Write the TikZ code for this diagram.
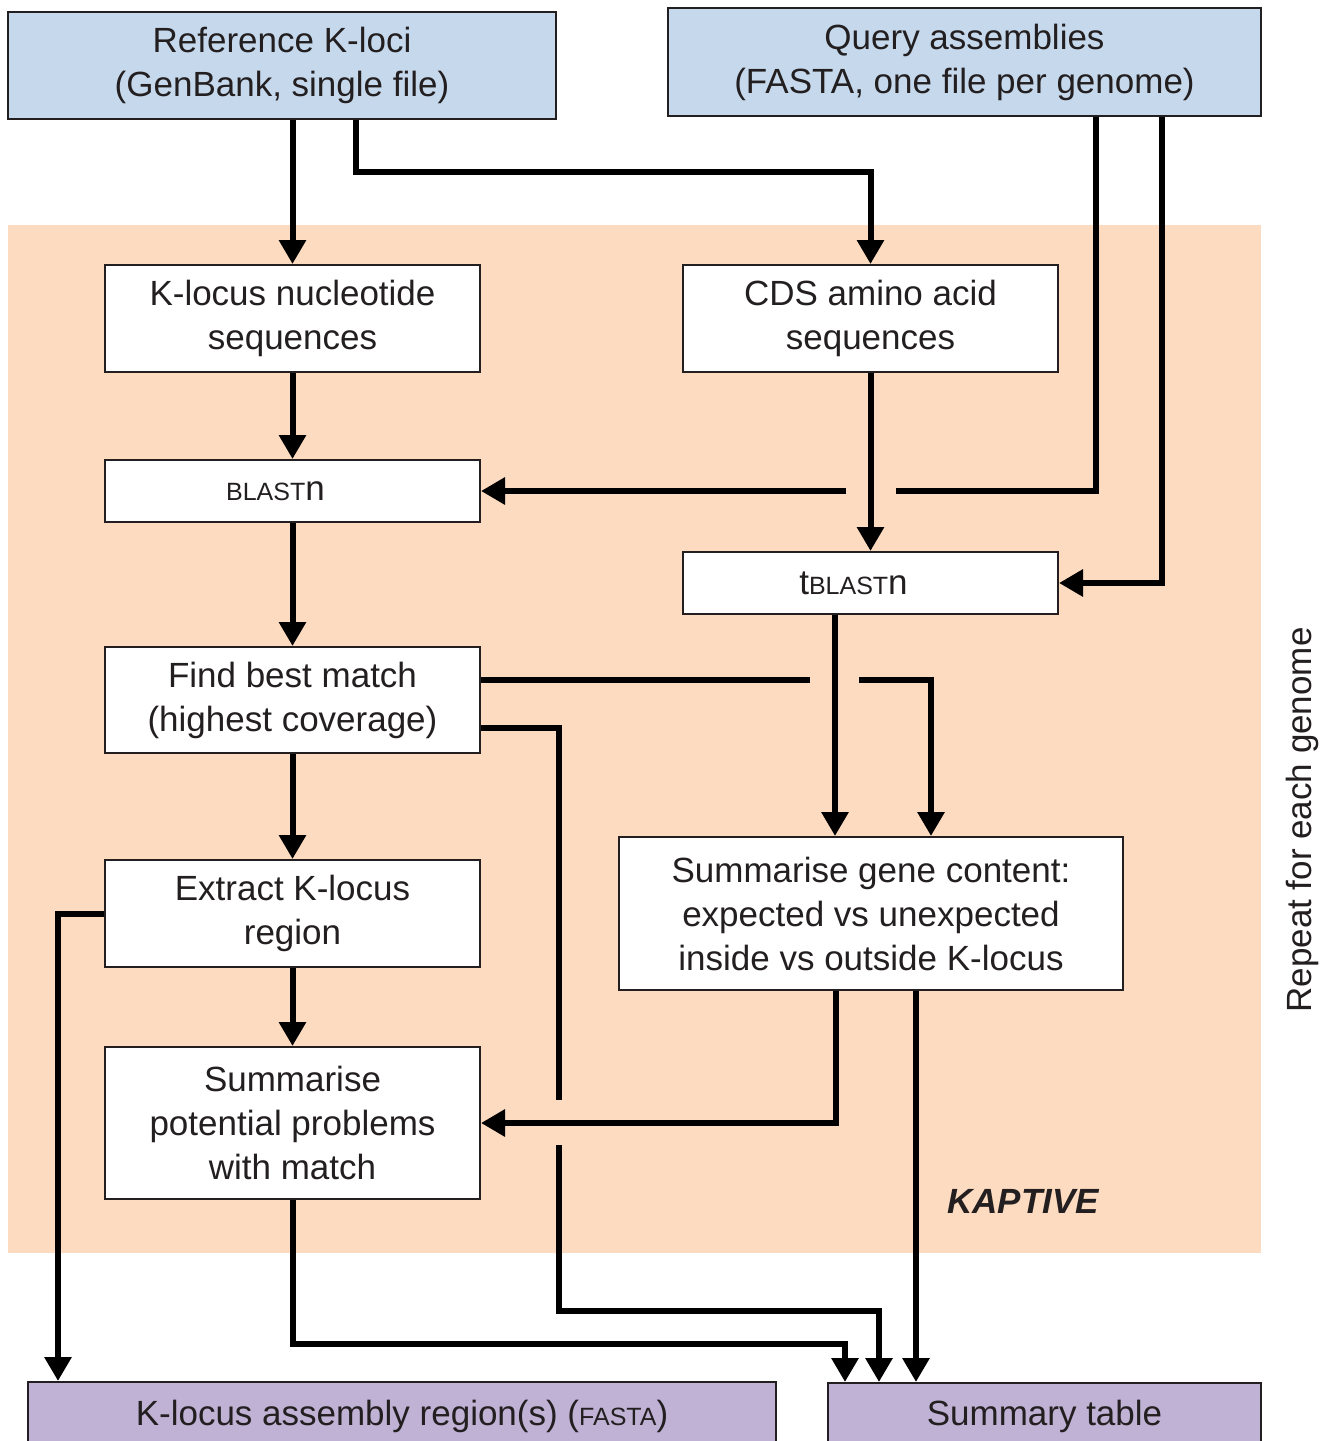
\documentclass[tikz,border=0pt]{standalone}
\usepackage{fontspec}
\setmainfont{Liberation Sans}
\usetikzlibrary{arrows.meta,calc}
\definecolor{qblue}{HTML}{C6D9EC}
\definecolor{peach}{HTML}{FDDBC0}
\definecolor{lilac}{HTML}{BFB2D4}
\definecolor{ink}{HTML}{231F20}
\newcommand{\sca}[1]{{\fontsize{12.5}{15}\selectfont #1}}
\begin{document}
\begin{tikzpicture}[x=0.5pt,y=-0.5pt,
  box/.style={draw=ink, line width=1pt, fill=white, align=center, inner sep=0pt,
    font=\fontsize{17.5}{22}\selectfont, text=ink},
  arr/.style={line width=3pt, draw=black, line join=miter, -{Triangle[length=12pt,width=13pt]}},
  ln/.style={line width=3pt, draw=black, line join=miter}]
\path[use as bounding box, clip] (0,0) rectangle (1334,1441);
\fill[white] (0,0) rectangle (1334,1441);
\fill[peach] (8,225) rectangle (1261,1253);

% input boxes
\node[box, fill=qblue, minimum width=274pt, minimum height=53.5pt] (ref) at (282,65.5)
  {Reference K-loci\\(GenBank, single file)};
\node[box, fill=qblue, minimum width=296.5pt, minimum height=54pt] (query) at (964.5,62)
  {Query assemblies\\(FASTA, one file per genome)};

% process boxes
\node[box, minimum width=187.5pt, minimum height=53.5pt] (knuc) at (292.5,318.5)
  {K-locus nucleotide\\sequences};
\node[box, minimum width=187.5pt, minimum height=53.5pt] (cds) at (870.5,318.5)
  {CDS amino acid\\sequences};
\node[box, minimum width=187.5pt, minimum height=31pt] (blastn) at (292.5,491)
  {\sca{BLAST}n\hspace{17pt}};
\node[box, minimum width=187.5pt, minimum height=31pt] (tblastn) at (870.5,583)
  {t\sca{BLAST}n\hspace{17pt}};
\node[box, minimum width=187.5pt, minimum height=53pt] (best) at (292.5,700)
  {Find best match\\(highest coverage)};
\node[box, minimum width=187.5pt, minimum height=53.5pt] (extract) at (292.5,913.5)
  {Extract K-locus\\region};
\node[box, minimum width=252pt, minimum height=76.5pt] (gene) at (871,913.5)
  {Summarise gene content:\\expected vs unexpected\\inside vs outside K-locus};
\node[box, minimum width=187.5pt, minimum height=76pt] (prob) at (292.5,1123)
  {Summarise\\potential problems\\with match};

% output boxes
\node[box, fill=lilac, minimum width=374pt, minimum height=34pt] (fasta) at (402,1416)
  {K-locus assembly region(s) (\sca{FASTA})};
\node[box, fill=lilac, minimum width=216.5pt, minimum height=33.5pt] (summ) at (1044.5,1416.5)
  {Summary table};

% labels
\node[font=\fontsize{17.5}{22}\selectfont\bfseries\itshape, text=ink] (kap) at (1023,1201) {KAPTIVE};
\node[font=\fontsize{17.5}{22}\selectfont, text=ink, rotate=90] (rep) at (1302,820) {Repeat for each genome};

% connectors
\draw[arr] (ref.south -| knuc.north) -- (knuc.north);
\draw[arr] ($(ref.south)+(74,0)$) -- ++(0,52) -| (cds.north);
\draw[ln] ($(query.south)+(131.5,0)$) |- ($(blastn.east)+(415,0)$);
\draw[arr] ($(blastn.east)+(365,0)$) -- (blastn.east);
\draw[arr] ($(query.south)+(197.5,0)$) |- (tblastn.east);
\draw[arr] (knuc.south) -- (blastn.north);
\draw[arr] (cds.south) -- (tblastn.north);
\draw[arr] (blastn.south) -- (best.north);
\draw[arr] ($(tblastn.south)+(-35.5,0)$) -- ($(gene.north)+(-36,0)$);
\draw[ln] ($(best.east)+(0,-20)$) -- ($(best.east)+(329,-20)$);
\draw[arr] ($(best.east)+(378,-20)$) -| ($(gene.north)+(60,0)$);
\draw[ln] ($(best.east)+(0,28)$) -| ($(prob.east)+(78,-23)$);
\draw[arr] ($(prob.east)+(78,22)$) -- ++(0,166) -| ($(summ.north)+(-165.5,0)$);
\draw[arr] (best.south) -- (extract.north);
\draw[arr] (extract.west) -| ($(fasta.north)+(-344,0)$);
\draw[arr] (extract.south) -- (prob.north);
\draw[arr] ($(gene.south)+(-35,0)$) |- (prob.east);
\draw[arr] ($(gene.south)+(45,0)$) -- ($(summ.north)+(-128.5,0)$);
\draw[arr] (prob.south) -- ++(0,144) -| ($(summ.north)+(-199.5,0)$);
\end{tikzpicture}
\end{document}
